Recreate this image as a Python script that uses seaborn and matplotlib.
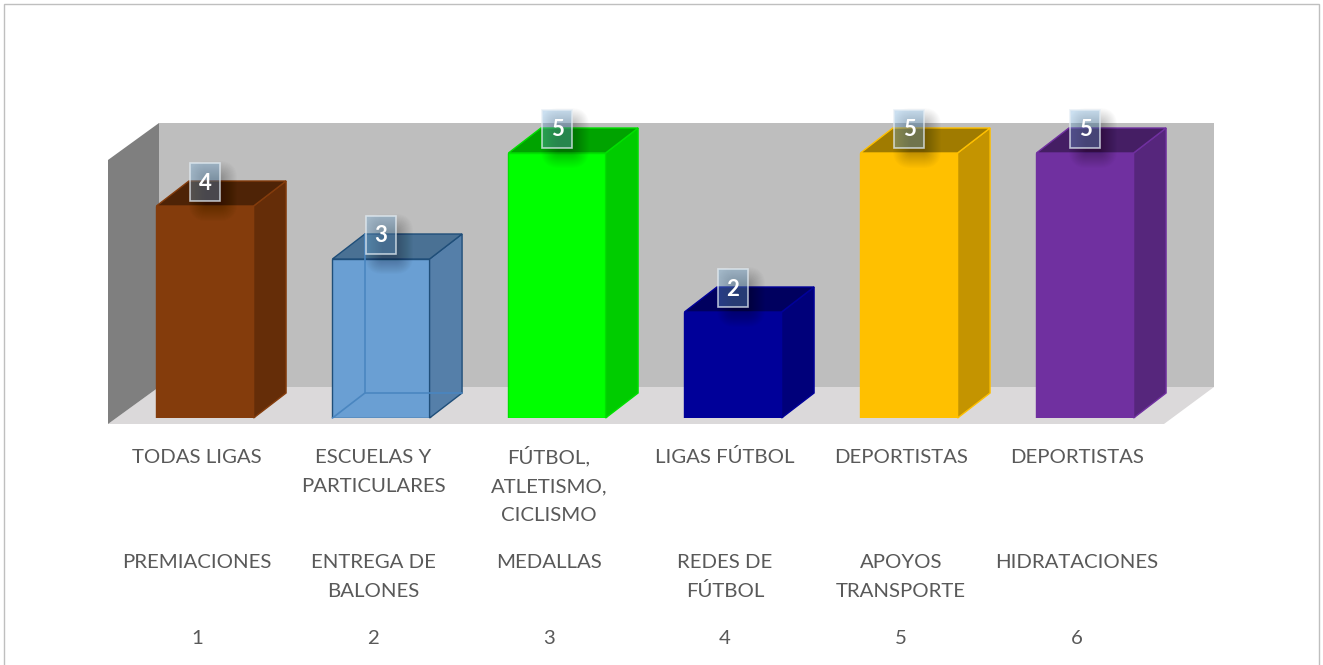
import matplotlib
matplotlib.use("Agg")
import matplotlib.pyplot as plt
import seaborn as sns
import pandas as pd
from matplotlib.patches import Polygon, Rectangle, FancyBboxPatch
from matplotlib.transforms import Affine2D, IdentityTransform

#data
numeros = ["1", "2", "3", "4", "5", "6"]
actividades = ["PREMIACIONES", "ENTREGA DE\nBALONES", "MEDALLAS", "REDES DE\nFÚTBOL",
               "APOYOS\nTRANSPORTE", "HIDRATACIONES"]
beneficiarios = ["TODAS LIGAS", "ESCUELAS Y\nPARTICULARES", "FÚTBOL,\nATLETISMO,\nCICLISMO",
                 "LIGAS FÚTBOL", "DEPORTISTAS", "DEPORTISTAS"]
valores = [4, 3, 5, 2, 5, 5]

colores = ["#843C0C", "#6A9FD3", "#00FF00", "#000099", "#FFC000", "#7030A0"]
lados = ["#652D08", "#557FA9", "#00CC00", "#00007A", "#C49400", "#56267C"]
tapas = ["#4E2306", "#4A7194", "#00A300", "#00005F", "#A07B00", "#451E64"]
bordes = ["#843C0C", "#1F4E79", "#00E000", "#000099", "#FFC000", "#7030A0"]

W, H = 1323, 665

sns.set_theme(style="white")
plt.rcParams['font.family'] = ['Lato', 'DejaVu Sans']

f = plt.figure(figsize=(W / 100, H / 100), dpi=100, facecolor="white")
ax = f.add_axes([117 / W, (H - 418) / H, 1056 / W, 265 / H])
ax.patch.set_alpha(0)

df = pd.DataFrame({"num": numeros, "val": valores})
sns.barplot(data=df, x="num", y="val", hue="num", palette=colores, legend=False,
            width=0.552, saturation=1, ax=ax, zorder=3)
ax.set_xlim(-0.5, 5.5)
ax.set_ylim(0, 5)
ax.set_xlabel("")
ax.set_ylabel("")
ax.set_xticks([])
ax.set_yticks([])
sns.despine(ax=ax, left=True, bottom=True)

bars = sorted(ax.patches, key=lambda p: p.get_x())

#pixel transform for the frame and the walls (y from the top)
pix = Affine2D().scale(1, -1).translate(0, H)


def muro(pts, color, z=0):
    ax.add_patch(Polygon(pts, closed=True, fc=color, ec="none", transform=pix, clip_on=False, zorder=z))


f.add_artist(Rectangle((4, 4), W - 8, H + 20, fc="white", ec="#BFBFBF", lw=1, transform=pix, zorder=-5))
muro([(159, 123), (1214, 123), (1214, 387), (159, 387)], "#BEBEBE")
muro([(108, 424), (159, 387), (1214, 387), (1164, 424)], "#DBD9DA")
muro([(108, 160), (159, 123), (159, 387), (108, 424)], "#7F7F7F")

#3d depth of the bars, in data units
dx = 32.5 / 176
dy = 25 / 53
px_t = IdentityTransform()

for i, p in enumerate(bars):
    x0 = p.get_x()
    x1 = x0 + p.get_width()
    h = p.get_height()
    p.set_edgecolor(bordes[i])
    p.set_linewidth(1.0)
    if i == 1:
        # this one is see through, the back edges show
        ax.plot([x0 + dx, x0 + dx, x1 + dx], [h + dy, dy, dy], color="#4A86C0", lw=1.2, zorder=4, clip_on=False)
        ax.plot([x0, x0 + dx], [0, dy], color="#4A86C0", lw=1.2, zorder=4, clip_on=False)
    ax.add_patch(Polygon([(x1, 0), (x1 + dx, dy), (x1 + dx, h + dy), (x1, h)], fc=lados[i], ec=bordes[i],
                         lw=1.0, clip_on=False, zorder=3))
    ax.add_patch(Polygon([(x0, h), (x0 + dx, h + dy), (x1 + dx, h + dy), (x1, h)], fc=tapas[i], ec=bordes[i],
                         lw=1.0, clip_on=False, zorder=3))

    #data label: soft shadow, glass box, number
    cx = x0 + p.get_width() / 2
    px_x, px_y = ax.transData.transform((cx, h + dy))
    for grow in range(1, 19):
        ax.add_patch(FancyBboxPatch((px_x - 6 - grow + 8, px_y - 12 - 10 - grow), 12 + 2 * grow, 24 + 2 * grow,
                                    boxstyle="round,pad=0,rounding_size=%d" % grow, fc="black", ec="none",
                                    alpha=0.016, transform=px_t, clip_on=False, zorder=5))
    ax.add_patch(Rectangle((px_x - 15, px_y - 20), 30, 38, fc="#6FA8D6", alpha=0.36, ec="none",
                           transform=px_t, clip_on=False, zorder=6))
    ax.add_patch(Rectangle((px_x - 15, px_y - 20), 30, 38, fc="none", ec="#E4EDF4", lw=1.2, alpha=0.75,
                           transform=px_t, clip_on=False, zorder=6))
    ax.annotate(str(valores[i]), (cx, h + dy), xytext=(0, -2), textcoords="offset pixels", ha="center",
                va="center", color="white", fontsize=16, fontweight="bold", annotation_clip=False, zorder=7)

#multi level category labels, one text per line to keep the line pitch
trans = ax.get_xaxis_transform()
for i, p in enumerate(bars):
    cx = p.get_x() + p.get_width() / 2
    for txt, base in [(beneficiarios[i], 463), (actividades[i], 568), (numeros[i], 644)]:
        for k, linea in enumerate(txt.split("\n")):
            ax.annotate(linea, (cx, 0), xycoords=trans, xytext=(-8, 418 - base - 29 * k), textcoords="offset pixels",
                        ha="center", va="baseline", fontsize=14.7, color="#595959", annotation_clip=False)

plt.savefig("out.png", dpi=100)
